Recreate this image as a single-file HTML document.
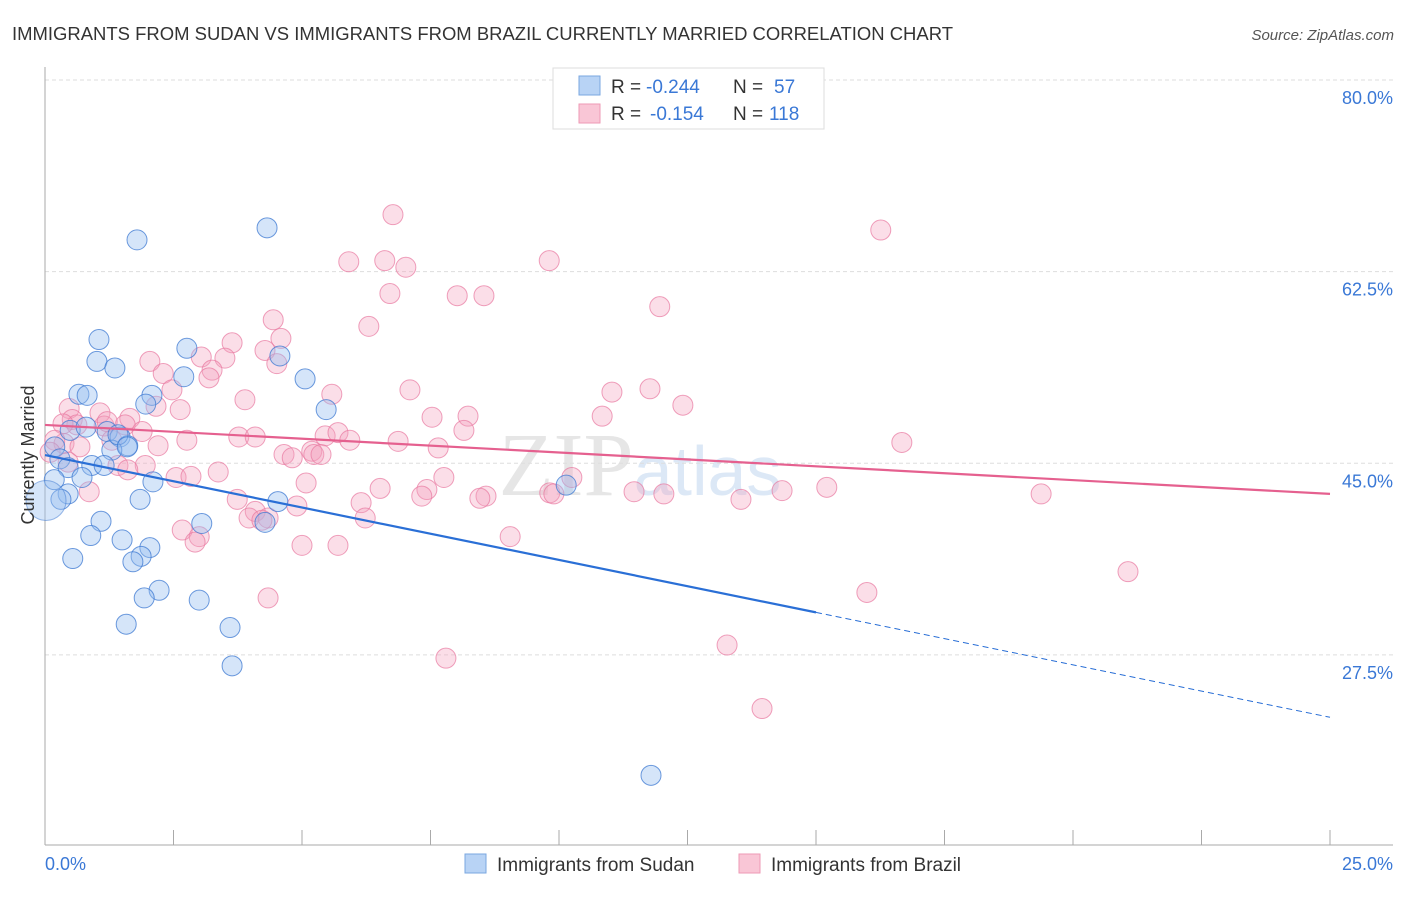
<!DOCTYPE html>
<html><head><meta charset="utf-8"><style>
body{margin:0;background:#fff;font-family:"Liberation Sans",sans-serif;}
</style></head><body>
<svg width="1406" height="892" xmlns="http://www.w3.org/2000/svg" font-family="Liberation Sans, sans-serif">
<text x="12" y="40" font-size="18" fill="#333" textLength="941" lengthAdjust="spacingAndGlyphs">IMMIGRANTS FROM SUDAN VS IMMIGRANTS FROM BRAZIL CURRENTLY MARRIED CORRELATION CHART</text>
<text x="1394" y="40" font-size="15" fill="#555" text-anchor="end" font-style="italic">Source: ZipAtlas.com</text>
<text x="640" y="495" font-size="90" fill="#e6e6e6" text-anchor="middle" font-family="Liberation Serif, serif">ZIP<tspan fill="#dce8f6" font-family="Liberation Sans, sans-serif" font-size="70">atlas</tspan></text>
<g id="grid"></g>
<g id="axes"></g>
<g id="pink"></g>
<g id="blue"></g>
<g id="trends"></g>
<text x="34" y="455" font-size="18" fill="#333" text-anchor="middle" transform="rotate(-90 34 455)">Currently Married</text>
<g font-size="19">
<rect x="553" y="68" width="271" height="61" fill="#fff" stroke="#ddd"/>
<rect x="579" y="76" width="21" height="19" fill="#b8d3f5" stroke="#7aa7e0"/>
<rect x="579" y="104" width="21" height="19" fill="#f9c6d6" stroke="#ee9ab5"/>
<text x="611" y="93" fill="#333">R =</text>
<text x="646" y="93" fill="#3a78d6">-0.244</text>
<text x="733" y="93" fill="#333">N =</text>
<text x="774" y="93" fill="#3a78d6">57</text>
<text x="611" y="120" fill="#333">R =</text>
<text x="650" y="120" fill="#3a78d6">-0.154</text>
<text x="733" y="120" fill="#333">N =</text>
<text x="769" y="120" fill="#3a78d6">118</text>
</g>
<g>
<rect x="465" y="854" width="21" height="19" fill="#b8d3f5" stroke="#7aa7e0"/>
<text x="497" y="871" font-size="19" fill="#333">Immigrants from Sudan</text>
<rect x="739" y="854" width="21" height="19" fill="#f9c6d6" stroke="#ee9ab5"/>
<text x="771" y="871" font-size="19" fill="#333">Immigrants from Brazil</text>
</g>
</svg>
<script>
const sudanX=[1.79,4.32,1.05,1.01,1.36,2.76,4.57,2.70,5.06,0.66,0.82,2.08,1.96,5.47,0.49,1.21,1.46,0.80,1.61,1.30,0.19,0.29,0.91,1.15,0.45,0.72,2.10,0.18,0.45,0.31,1.85,4.53,1.09,3.05,4.28,0.89,1.50,2.04,1.87,1.71,0.54,2.22,1.93,3.00,1.58,3.60,3.64,10.14,11.79,1.42,1.60];
const sudanY=[65.4,66.5,56.3,54.3,53.7,55.5,54.8,52.9,52.7,51.3,51.2,51.2,50.4,49.9,48.0,47.9,47.4,48.3,46.6,46.2,46.5,45.4,44.8,44.8,44.6,43.7,43.3,43.5,42.2,41.7,41.7,41.5,39.7,39.5,39.6,38.4,38.0,37.3,36.5,36.0,36.3,33.4,32.7,32.5,30.3,30.0,26.5,43.0,16.5,47.6,46.5];
const brazilX=[6.77,16.26,5.91,6.61,7.02,9.81,6.71,8.02,8.54,11.96,6.30,4.44,4.59,3.64,4.28,3.50,3.04,2.04,3.25,2.30,3.19,4.51,7.10,11.03,11.77,5.58,2.47,3.89,12.41,2.63,7.53,8.23,10.84,0.47,1.07,1.65,2.16,0.53,0.62,0.35,1.15,1.56,1.89,1.30,8.15,5.45,5.70,5.93,3.77,4.09,2.76,2.20,6.87,7.65,16.67,0.37,0.19,0.10,0.68,0.45,1.42,1.95,1.61,4.65,4.81,5.19,5.23,5.37,3.37,2.55,2.84,7.76,10.25,5.08,6.52,7.43,7.33,8.58,8.46,9.82,9.90,11.46,12.04,14.34,15.21,13.54,19.38,3.74,4.90,6.15,4.09,3.97,4.34,4.22,6.23,2.67,3.00,2.92,5.00,5.70,9.05,21.07,4.34,15.99,7.80,13.27,13.95,0.86,1.21];
const brazilY=[67.7,66.3,63.4,63.5,62.9,63.5,60.5,60.3,60.3,59.3,57.5,58.1,56.4,56.0,55.3,54.6,54.7,54.3,53.5,53.2,52.8,54.1,51.7,51.5,51.8,51.3,51.7,50.8,50.3,49.9,49.2,49.3,49.3,50.0,49.6,49.1,50.2,49.0,48.5,48.6,48.4,48.5,47.9,47.1,48.0,47.5,47.8,47.1,47.4,47.4,47.1,46.6,47.0,46.4,46.9,46.8,47.1,46.0,46.5,45.1,44.8,44.8,44.4,45.8,45.5,46.1,45.8,45.8,44.2,43.7,43.8,43.7,43.7,43.2,42.7,42.6,42.0,42.0,41.8,42.3,42.2,42.4,42.2,42.5,42.8,41.7,42.2,41.7,41.1,41.4,40.6,40.0,40.0,39.8,40.0,38.9,38.3,37.8,37.5,37.5,38.3,35.1,32.7,33.2,27.2,28.4,22.6,42.4,48.8];
const yTicks=[80,62.5,45,27.5];
const yTickLabels=["80.0%","62.5%","45.0%","27.5%"];
const xTicks=[0,2.5,5,7.5,10,12.5,15,17.5,20,22.5,25];
const sudanTrend=[45.75,21.8];
const sudanSolidEnd=15.0;
const brazilTrend=[48.5,42.2];

const NS="http://www.w3.org/2000/svg";
const xs=v=>45+v*51.4;
const ys=v=>80+(80-v)*10.95;
function mk(tag,attrs,parent){const e=document.createElementNS(NS,tag);for(const k in attrs)e.setAttribute(k,attrs[k]);parent.appendChild(e);return e;}
const grid=document.getElementById('grid'),axes=document.getElementById('axes');
yTicks.forEach((t,i)=>{
 const l=mk('line',{x1:45,x2:1393,y1:ys(t),y2:ys(t),stroke:'#ddd','stroke-dasharray':'4,3'},grid);
 
 
 const tx=mk('text',{x:1393,y:ys(t)+24,'font-size':18,fill:'#3a78d6','text-anchor':'end'},axes);
 tx.textContent=yTickLabels[i];
 
 
});
let a=mk('line',{x1:45,x2:45,y1:67,y2:845,stroke:'#aaa'},axes);


a=mk('line',{x1:45,x2:1393,y1:845,y2:845,stroke:'#aaa'},axes);


xTicks.forEach(t=>{
 const l=mk('line',{x1:xs(t),x2:xs(t),y1:830,y2:845,stroke:'#aaa'},axes);
 
 
});
let t0=mk('text',{x:45,y:870,'font-size':18,fill:'#3a78d6'},axes);t0.textContent=xTicks[0].toFixed(1)+'%';


let t1=mk('text',{x:1393,y:870,'font-size':18,fill:'#3a78d6','text-anchor':'end'},axes);t1.textContent=xTicks[xTicks.length-1].toFixed(1)+'%';


const pink=document.getElementById('pink'),blue=document.getElementById('blue');
brazilX.forEach((x,i)=>{
 const c=mk('circle',{cx:xs(x),cy:ys(brazilY[i]),r:10,fill:'rgba(244,160,190,0.35)',stroke:'rgba(232,120,160,0.7)','stroke-width':1},pink);
 
 
});
sudanX.forEach((x,i)=>{
 const c=mk('circle',{cx:xs(x),cy:ys(sudanY[i]),r:10,fill:'rgba(150,190,240,0.4)',stroke:'rgba(60,120,210,0.75)','stroke-width':1},blue);
 
 
});
const big=mk('circle',{cx:xs(0.02),cy:ys(41.6),r:20,fill:'rgba(150,190,240,0.4)',stroke:'rgba(60,120,210,0.5)'},blue);


const tr=document.getElementById('trends');
const by=x=>sudanTrend[0]+(sudanTrend[1]-sudanTrend[0])*x/25;
let l=mk('line',{x1:xs(0),y1:ys(sudanTrend[0]),x2:xs(sudanSolidEnd),y2:ys(by(sudanSolidEnd)),stroke:'#2a6fd6','stroke-width':2.2},tr);


l=mk('line',{x1:xs(sudanSolidEnd),y1:ys(by(sudanSolidEnd)),x2:xs(25),y2:ys(sudanTrend[1]),stroke:'#2a6fd6','stroke-width':1,'stroke-dasharray':'6,4'},tr);


l=mk('line',{x1:xs(0),y1:ys(brazilTrend[0]),x2:xs(25),y2:ys(brazilTrend[1]),stroke:'#e5608f','stroke-width':2.2},tr);


</script>
</body></html>
